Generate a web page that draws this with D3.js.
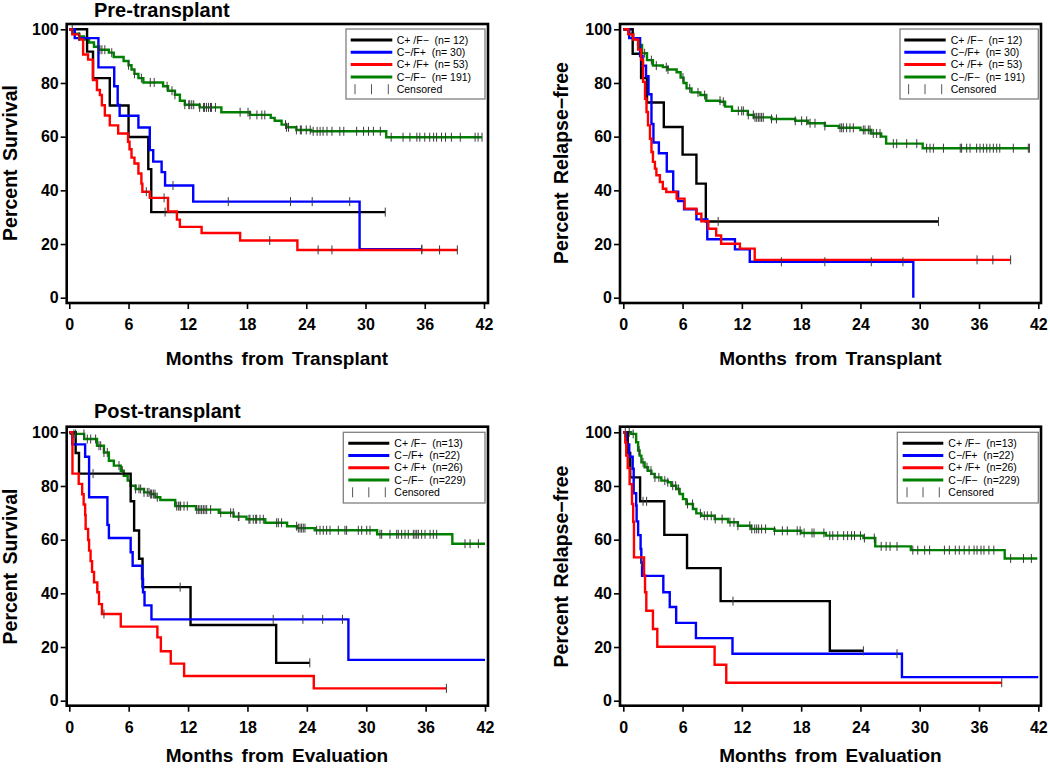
<!DOCTYPE html>
<html><head><meta charset="utf-8">
<script src="https://cdn.jsdelivr.net/npm/d3@7"></script>
<style>
html,body{margin:0;padding:0;background:#fff;}
svg{display:block;font-family:"Liberation Sans",Arial,sans-serif;}
</style></head><body>
<svg id="chart" width="1050" height="768"></svg>
<script>
// ---------------- DATA ----------------
const monthTicks = [0, 6, 12, 18, 24, 30, 36, 42];
const pctTicks = [0, 20, 40, 60, 80, 100];
const groupColors = ["#000000", "#0000ff", "#ff0000", "#008000"];
const preLegend = ["C+ /F\u2212  (n= 12)", "C\u2212/F+  (n= 30)", "C+ /F+  (n= 53)", "C\u2212/F\u2212  (n= 191)"];
const postLegend = ["C+ /F\u2212  (n=13)", "C\u2212/F+  (n=22)", "C+ /F+  (n=26)", "C\u2212/F\u2212  (n=229)"];
const censoredLabel = "Censored";
const panelTitles = ["Pre-transplant", "", "Post-transplant", ""];
const yTitles = ["Percent Survival", "Percent Relapse\u2212free", "Percent Survival", "Percent Relapse\u2212free"];
const xTitles = ["Months from Transplant", "Months from Transplant", "Months from Evaluation", "Months from Evaluation"];

// step curves: [month, percent] ; last point = end of follow-up
const preOS_CpFm = [[0,100],[1.8,91.7],[2.4,81.8],[4.1,71.6],[6.0,59.9],[8.0,47.9],[8.3,31.9],[32.0,31.9]];
const preOS_CmFp = [[0,100],[0.55,96.7],[2.95,85.8],[4.55,78.8],[4.9,71.8],[5.1,67.8],[7.0,63.4],[8.15,55.0],[8.5,50.7],[9.35,46.8],[9.7,41.8],[12.55,35.8],[29.4,18.1],[35.7,18.1]];
const preOS_CpFp = [[0,100],[0.3,98.1],[1.0,96.2],[1.4,90.6],[1.9,88.7],[2.4,81.1],[2.8,77.4],[3.1,75.5],[3.3,71.7],[3.6,67.9],[4.1,64.2],[4.95,61.2],[5.95,58.1],[6.1,55.3],[6.3,52.2],[6.6,50.0],[7.0,46.3],[7.3,42.5],[7.4,39.5],[8.15,37.2],[10.0,32.1],[10.9,29.1],[11.2,26.4],[13.4,24.1],[17.3,21.3],[23.1,17.8],[39.3,17.8]];
const preOS_CmFm = [[0,100],[0.5,98.4],[1.0,97.3],[1.5,96.2],[2.0,95.1],[2.5,93.5],[3.0,92.4],[4.0,91.3],[4.5,89.7],[5.5,88.2],[6.0,86.6],[6.3,85.0],[6.6,83.4],[7.0,81.8],[7.5,80.2],[9.5,78.8],[10.0,77.1],[10.7,75.6],[11.2,73.4],[11.7,71.9],[13.2,70.9],[15.4,69.1],[18.3,68.1],[20.4,67.0],[20.8,65.9],[21.5,64.5],[22.0,63.5],[23.0,62.5],[24.5,62.0],[32.1,59.8],[41.8,59.8]];
const preOS_CpFm_cens = [9.7, 32.0];
const preOS_CmFp_cens = [10.5, 16.1, 22.4, 24.6, 28.4, 35.7];
const preOS_CpFp_cens = [7.8, 9.6, 20.3, 25.2, 26.6, 35.7, 37.5, 39.3];
const preOS_CmFm_cens = [0.3,1.0,2.9,3.1,3.3,3.6,4.3,6.0,6.6,7.3,8.2,8.6,9.9,10.4,10.7,11.7,12.1,12.2,12.4,12.6,13.2,13.6,13.7,13.9,14.1,14.3,14.4,14.8,17.3,18.1,18.3,19.0,19.5,19.8,21.9,22.0,22.2,23.0,23.4,23.5,24.0,24.4,24.7,25.1,25.4,25.7,26.1,26.6,27.4,27.8,29.1,29.8,30.3,30.8,31.5,32.6,33.8,34.5,35.2,35.5,36.0,36.5,36.9,37.2,37.7,38.1,38.7,39.6,41.1,41.4,41.8];

const preRFS_CpFm = [[0,100],[0.95,90.9],[1.8,81.8],[2.4,72.7],[4.1,63.6],[6.0,53.3],[7.4,42.5],[8.35,28.4],[31.9,28.4]];
const preRFS_CmFp = [[0,100],[0.6,96.7],[1.7,90.0],[1.95,86.4],[2.3,82.5],[2.55,75.8],[2.85,64.7],[3.05,57.8],[3.6,53.8],[4.4,47.0],[5.05,39.5],[5.55,36.0],[6.15,32.9],[7.4,29.2],[8.5,21.8],[11.3,18.0],[12.8,13.4],[29.35,0],[29.35,0]];
const preRFS_CpFp = [[0,100],[0.5,98.1],[1.0,96.2],[1.5,92.5],[1.8,88.7],[2.0,80.4],[2.2,74.1],[2.35,69.2],[2.5,64.2],[2.7,59.2],[2.85,54.3],[3.0,50.6],[3.2,48.1],[3.35,45.6],[3.7,43.1],[4.0,40.6],[4.35,39.4],[5.4,36.9],[6.2,33.2],[7.4,31.3],[7.9,28.5],[8.6,25.7],[9.4,23.2],[9.9,20.1],[11.8,18.3],[13.3,14.1],[39.2,14.1]];
const preRFS_CmFm = [[0,100],[0.5,98.4],[1.0,96.3],[1.5,94.2],[1.9,91.1],[2.4,88.5],[3.0,86.5],[4.0,85.9],[4.5,85.0],[5.4,84.0],[5.8,82.0],[6.1,80.0],[6.4,78.0],[6.9,76.5],[7.8,75.5],[8.4,73.4],[9.8,73.0],[10.3,71.2],[11.0,69.6],[12.6,68.1],[13.2,67.2],[15.0,66.6],[17.4,65.9],[18.7,65.0],[20.4,64.0],[21.8,63.3],[24.0,62.5],[25.1,61.2],[26.1,60.0],[26.6,57.4],[30.3,55.7],[41.1,55.7]];
const preRFS_CpFm_cens = [9.6, 31.9];
const preRFS_CmFp_cens = [16.0, 20.4, 25.1, 28.3];
const preRFS_CpFp_cens = [35.8, 37.4, 39.2];
const preRFS_CmFm_cens = [1.66,2.16,2.84,3.34,4.35,4.52,6.04,6.72,7.56,8.23,9.79,10.12,11.64,11.98,12.15,12.65,13.16,13.33,13.5,13.67,13.83,14.0,14.17,15.0,15.5,17.4,18.05,18.56,18.9,19.4,20.4,21.93,22.1,22.27,22.6,22.94,23.28,24.29,24.46,24.8,24.97,25.3,25.64,25.98,27.33,27.67,28.68,29.7,30.7,31.04,31.38,32.4,34.1,34.24,34.75,35.09,35.76,36.1,36.44,36.78,37.1,37.45,37.79,38.1,39.47,40.99,41.1];

const postOS_CpFm = [[0,100],[0.64,92.3],[0.98,84.6],[6.2,74.3],[6.55,63.4],[7.05,52.9],[7.4,42.3],[12.25,28.2],[20.9,14.1],[24.3,14.1]];
const postOS_CmFp = [[0,100],[0.3,95.5],[1.6,90.9],[2.0,75.8],[3.85,65.5],[4.0,60.6],[6.2,55.3],[6.4,50.3],[7.35,45.4],[7.45,40.4],[7.6,35.5],[8.3,30.3],[28.2,15.2],[42,15.2]];
const postOS_CpFp = [[0,100],[0.32,84.6],[0.95,80.8],[1.3,76.9],[1.45,73.1],[1.6,69.2],[1.65,64.0],[1.9,59.9],[2.0,55.9],[2.15,52.0],[2.3,48.0],[2.5,44.1],[2.83,40.4],[3.0,36.0],[3.3,32.3],[5.2,27.6],[8.9,23.6],[9.25,18.4],[10.25,13.8],[11.6,9.2],[24.7,4.6],[38.1,4.6]];
const postOS_CmFm = [[0,100],[0.15,99.4],[1.5,97.5],[2.8,95.0],[3.5,92.5],[4.0,89.4],[4.5,87.6],[5.2,85.7],[5.5,83.8],[5.9,82.0],[6.2,80.1],[6.7,78.9],[7.55,77.6],[8.2,77.0],[8.7,75.8],[9.2,74.8],[10.7,72.5],[12.8,71.2],[15.1,70.0],[16.6,68.6],[17.9,67.6],[19.8,66.3],[22.0,65.0],[23.0,64.3],[24.8,63.5],[31.1,62.0],[38.7,58.5],[42,58.5]];
const postOS_CpFm_cens = [2.4, 11.2, 24.3];
const postOS_CmFp_cens = [20.6, 23.6, 25.6, 27.6];
const postOS_CpFp_cens = [3.5, 38.1];
const postOS_CmFm_cens = [0.47,0.64,1.48,1.82,2.16,2.66,3.0,3.17,3.5,3.84,5.02,5.36,6.7,7.04,7.21,7.55,7.88,8.05,8.22,8.32,8.49,8.66,8.89,10.85,11.02,11.18,11.25,11.59,11.92,12.87,13.04,13.2,13.37,13.54,13.71,13.88,14.28,15.3,16.3,16.57,17.08,17.14,18.15,18.25,18.59,18.83,18.93,19.27,19.6,20.95,21.12,21.45,22.97,23.14,23.31,23.47,23.64,23.81,24.99,25.33,25.66,26.0,26.34,27.18,27.85,28.02,29.2,29.54,30.05,30.38,31.39,31.56,32.4,33.08,33.24,33.58,33.92,34.25,34.76,34.93,35.1,35.27,35.6,35.94,36.45,36.78,37.12,39.98,40.49,41.33];

const postRFS_CpFm = [[0,100],[0.45,92.3],[0.7,83.2],[1.7,74.3],[4.15,61.8],[6.45,49.4],[9.85,37.1],[20.9,18.6],[24.3,18.6]];
const postRFS_CmFp = [[0,100],[0.3,95.5],[0.6,90.9],[0.95,86.4],[1.05,77.3],[1.3,72.7],[1.35,66.8],[1.5,61.7],[1.75,56.5],[1.82,51.5],[1.9,46.5],[4.05,40.4],[4.7,34.9],[5.35,29.0],[7.35,23.3],[11.05,17.5],[28.2,8.8],[42,8.8]];
const postRFS_CpFp = [[0,100],[0.2,96.2],[0.3,91.3],[0.45,86.7],[0.64,80.7],[0.88,73.3],[1.0,66.7],[1.08,53.4],[2.1,46.7],[2.2,40.4],[2.33,33.5],[3.0,26.7],[3.44,20.1],[9.24,13.4],[10.42,6.7],[38.3,6.7]];
const postRFS_CmFm = [[0,100],[0.8,99.4],[1.3,96.3],[1.5,93.2],[1.65,91.3],[1.83,88.8],[2.16,87.0],[2.5,85.7],[2.84,84.5],[3.17,83.2],[3.85,82.0],[4.5,81.4],[4.86,80.1],[5.37,78.9],[5.7,77.0],[6.04,75.1],[6.38,73.3],[7.05,71.4],[7.39,69.8],[7.9,68.9],[9.25,67.7],[10.6,66.5],[11.6,65.2],[12.95,64.0],[15.3,63.3],[18.0,62.5],[20.5,61.5],[24.3,60.6],[25.5,57.5],[29.1,56.1],[38.6,53.0],[41.9,53.0]];
const postRFS_CpFm_cens = [2.0, 2.36, 11.1, 24.3];
const postRFS_CmFp_cens = [1.86, 27.7];
const postRFS_CpFp_cens = [38.3];
const postRFS_CmFm_cens = [0.2,0.6,1.0,1.6,2.0,2.4,2.8,3.2,3.6,4.2,4.5,5.0,5.3,5.6,6.5,7.0,7.8,8.2,8.5,8.9,9.3,10.0,10.8,11.2,11.6,12.8,13.0,13.3,13.5,13.7,14.0,14.4,15.3,16.1,16.6,17.6,17.9,18.3,19.1,19.3,20.3,20.9,21.2,21.7,22.3,22.7,23.1,23.4,24.0,24.4,25.4,26.1,26.6,27.0,27.7,29.3,29.8,30.5,31.0,32.5,33.0,33.6,34.0,34.5,35.0,35.5,35.8,36.2,36.5,37.0,37.5,39.2,40.5,41.3];

// ---------------- LAYOUT ----------------
const panels = [
  { frame:{l:66.7,r:488,t:24,b:303}, xr:[69.3,484], yr:[297.7,29.3],
    curves:[preOS_CpFm,preOS_CmFp,preOS_CpFp,preOS_CmFm], cens:[preOS_CpFm_cens,preOS_CmFp_cens,preOS_CpFp_cens,preOS_CmFm_cens],
    legend:{labels:preLegend,x:346,y:29,w:139,h:70,l1:350.7,l2:392.3,tx:396.7,row0:40,dy:12.3},
    title:{x:94,y:16.5}, ytitle:{x:16.5,y:163}, xtitle:{x:277,y:365} },
  { frame:{l:620,r:1041,t:24,b:303}, xr:[623.3,1038.3], yr:[297.7,29.3],
    curves:[preRFS_CpFm,preRFS_CmFp,preRFS_CpFp,preRFS_CmFm], cens:[preRFS_CpFm_cens,preRFS_CmFp_cens,preRFS_CpFp_cens,preRFS_CmFm_cens],
    legend:{labels:preLegend,x:900,y:29,w:138.3,h:70,l1:904.3,l2:945.7,tx:950.7,row0:40,dy:12.3},
    title:{x:0,y:0}, ytitle:{x:568,y:163}, xtitle:{x:830.5,y:365} },
  { frame:{l:66.7,r:488,t:426.7,b:705.7}, xr:[69.3,485], yr:[700.7,432.3],
    curves:[postOS_CpFm,postOS_CmFp,postOS_CpFp,postOS_CmFm], cens:[postOS_CpFm_cens,postOS_CmFp_cens,postOS_CpFp_cens,postOS_CmFm_cens],
    legend:{labels:postLegend,x:343.3,y:432.3,w:141.7,h:70.7,l1:348.3,l2:389.3,tx:394.3,row0:443.3,dy:12.25},
    title:{x:94,y:418}, ytitle:{x:16.5,y:566.5}, xtitle:{x:277,y:762} },
  { frame:{l:620,r:1041,t:426.7,b:705.7}, xr:[623.3,1038.3], yr:[700.7,432.3],
    curves:[postRFS_CpFm,postRFS_CmFp,postRFS_CpFp,postRFS_CmFm], cens:[postRFS_CpFm_cens,postRFS_CmFp_cens,postRFS_CpFp_cens,postRFS_CmFm_cens],
    legend:{labels:postLegend,x:897.3,y:432.3,w:141,h:70.7,l1:902.7,l2:943.3,tx:948.3,row0:443.3,dy:12.25},
    title:{x:0,y:0}, ytitle:{x:568,y:566.5}, xtitle:{x:830.5,y:762} }
];

// ---------------- DRAW ----------------
const svg = d3.select("#chart");
const drawOrder = [3, 0, 1, 2];

function survAt(curve, t) {
  let v = curve[0][1];
  for (const p of curve) { if (p[0] <= t + 1e-9) v = p[1]; else break; }
  return v;
}

panels.forEach((P, pi) => {
  const g = svg.append("g");
  const x = d3.scaleLinear().domain([0, 42]).range(P.xr);
  const y = d3.scaleLinear().domain([0, 100]).range(P.yr);

  g.append("rect").attr("x", P.frame.l).attr("y", P.frame.t)
    .attr("width", P.frame.r - P.frame.l).attr("height", P.frame.b - P.frame.t)
    .attr("fill", "none").attr("stroke", "#000").attr("stroke-width", 2.6);

  const xa = g.append("g").attr("transform", `translate(0,${P.frame.b + 1})`)
    .call(d3.axisBottom(x).tickValues(monthTicks).tickSize(5).tickPadding(10).tickFormat(d3.format("d")));
  const ya = g.append("g").attr("transform", `translate(${P.frame.l - 1},0)`)
    .call(d3.axisLeft(y).tickValues(pctTicks).tickSize(5).tickPadding(2).tickFormat(d3.format("d")));
  [xa, ya].forEach(a => {
    a.select(".domain").remove();
    a.selectAll(".tick line").attr("stroke", "#000").attr("stroke-width", 1.6);
    a.selectAll(".tick text").attr("fill", "#000")
      .style("font-family", '"Liberation Sans", Arial, sans-serif')
      .style("font-size", "16px").style("font-weight", "bold");
  });

  const line = d3.line().x(d => x(d[0])).y(d => y(d[1])).curve(d3.curveStepAfter);
  drawOrder.forEach(ci => {
    g.append("path").datum(P.curves[ci]).attr("d", line)
      .attr("fill", "none").attr("stroke", groupColors[ci]).attr("stroke-width", 2.4)
      .attr("stroke-linejoin", "miter").attr("stroke-linecap", "butt");
  });
  drawOrder.forEach(ci => {
    g.append("g").selectAll("line").data(P.cens[ci]).join("line")
      .attr("x1", d => x(d)).attr("x2", d => x(d))
      .attr("y1", d => y(survAt(P.curves[ci], d)) - 4.5)
      .attr("y2", d => y(survAt(P.curves[ci], d)) + 4.5)
      .attr("stroke", "#3a3a3a").attr("stroke-width", 1);
  });

  const L = P.legend;
  const lg = g.append("g");
  lg.append("rect").attr("x", L.x).attr("y", L.y).attr("width", L.w).attr("height", L.h)
    .attr("fill", "#fff").attr("stroke", "#808080").attr("stroke-width", 1.3);
  L.labels.forEach((lab, i) => {
    const yy = L.row0 + i * L.dy;
    lg.append("line").attr("x1", L.l1).attr("x2", L.l2).attr("y1", yy).attr("y2", yy)
      .attr("stroke", groupColors[i]).attr("stroke-width", 3);
    lg.append("text").attr("x", L.tx).attr("y", yy).attr("dy", "0.35em")
      .style("font-size", "10.5px").style("white-space", "pre").attr("fill", "#000").text(lab);
  });
  const cy = L.row0 + 4 * L.dy;
  const mid = (L.l1 + L.l2) / 2;
  [L.l1 + 4.3, mid, L.l2 - 4].forEach(cx => {
    lg.append("line").attr("x1", cx).attr("x2", cx).attr("y1", cy - 5).attr("y2", cy + 5)
      .attr("stroke", "#555").attr("stroke-width", 1);
  });
  lg.append("text").attr("x", L.tx).attr("y", cy).attr("dy", "0.35em")
    .style("font-size", "10.5px").attr("fill", "#000").text(censoredLabel);

  if (panelTitles[pi]) {
    g.append("text").attr("x", P.title.x).attr("y", P.title.y)
      .style("font-size", "20px").style("font-weight", "bold").text(panelTitles[pi]);
  }
  g.append("text").attr("transform", `translate(${P.ytitle.x},${P.ytitle.y}) rotate(-90)`)
    .attr("text-anchor", "middle").style("font-size", "19.5px").style("font-weight", "bold")
    .style("word-spacing", "3px").text(yTitles[pi]);
  g.append("text").attr("x", P.xtitle.x).attr("y", P.xtitle.y).attr("text-anchor", "middle")
    .style("font-size", "19px").style("font-weight", "bold").style("word-spacing", "3px")
    .text(xTitles[pi]);
});
</script>
</body></html>
